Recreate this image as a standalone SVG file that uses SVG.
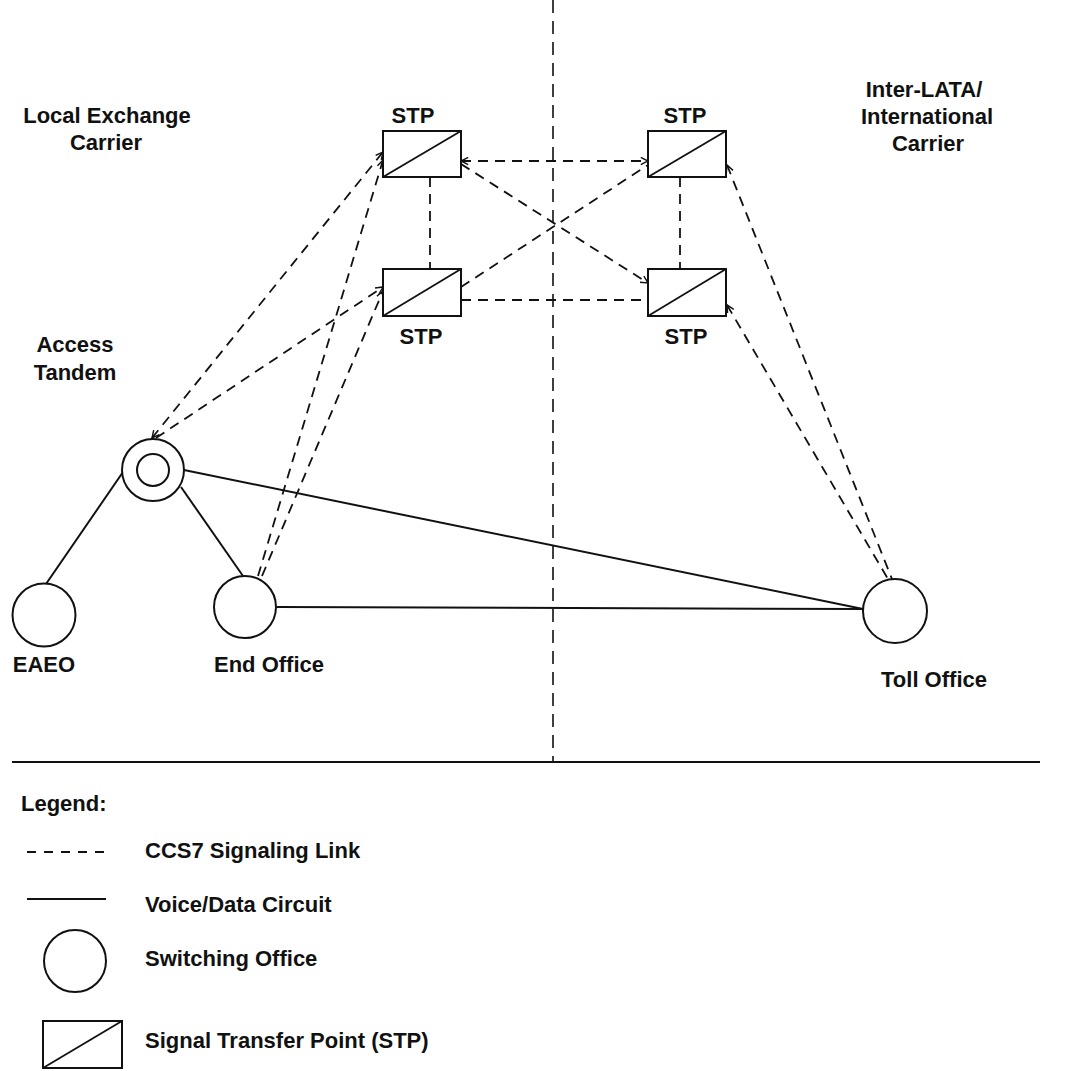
<svg xmlns="http://www.w3.org/2000/svg" width="1066" height="1071" viewBox="0 0 1066 1071">
  <defs>
    <style>
      text { font-family: "Liberation Sans", Arial, Helvetica, sans-serif; font-size: 22px; font-weight: bold; fill: #111; }
      .mid { text-anchor: middle; }
      .office { fill: #fff; stroke: #111; stroke-width: 2; }
      .stp { fill: #fff; stroke: #111; stroke-width: 2; }
      .diag { stroke: #111; stroke-width: 1.8; fill: none; }
      .circuit { stroke: #111; stroke-width: 2; fill: none; }
      .link { stroke: #111; stroke-width: 1.8; fill: none; stroke-dasharray: 10 7; }
      .divider { stroke: #111; stroke-width: 1.6; fill: none; stroke-dasharray: 13 8; }
      .rule { stroke: #111; stroke-width: 2; fill: none; }
    </style>
    <marker id="arrow" viewBox="0 0 10 10" refX="9" refY="5" markerWidth="9" markerHeight="9" markerUnits="userSpaceOnUse" orient="auto-start-reverse">
      <path d="M1,1 L9,5 L1,9" fill="none" stroke="#111" stroke-width="1.6" stroke-dasharray="none"/>
    </marker>
  </defs>

  <rect width="1066" height="1071" fill="#fff"/>

  <!-- boundary between carriers and the legend rule -->
  <line class="divider" x1="553" y1="0" x2="553" y2="762"/>
  <line class="rule" x1="12" y1="762" x2="1040" y2="762"/>

  <!-- region labels -->
  <text class="mid" x="107" y="123">Local Exchange</text>
  <text class="mid" x="106" y="150">Carrier</text>
  <text class="mid" x="924" y="97">Inter-LATA/</text>
  <text class="mid" x="927" y="124">International</text>
  <text class="mid" x="928" y="151">Carrier</text>

  <!-- connectors -->
  <g id="connectors">
    <!-- voice/data circuits -->
    <line class="circuit" x1="123" y1="472" x2="46" y2="584"/>
    <line class="circuit" x1="181" y1="487" x2="243" y2="576"/>
    <line class="circuit" x1="184" y1="470" x2="863" y2="609"/>
    <line class="circuit" x1="277" y1="607" x2="863" y2="609"/>

    <!-- CCS7 signaling links -->
    <line class="link" x1="152" y1="438" x2="383" y2="152" marker-start="url(#arrow)" marker-end="url(#arrow)"/>
    <line class="link" x1="156" y1="438" x2="383" y2="287" marker-end="url(#arrow)"/>
    <line class="link" x1="258" y1="576" x2="383" y2="160" marker-end="url(#arrow)"/>
    <line class="link" x1="262" y1="576" x2="383" y2="291" marker-end="url(#arrow)"/>

    <line class="link" x1="461" y1="161" x2="648" y2="161" marker-start="url(#arrow)" marker-end="url(#arrow)"/>
    <line class="link" x1="461" y1="300" x2="648" y2="300"/>
    <line class="link" x1="430" y1="177" x2="430" y2="269"/>
    <line class="link" x1="680" y1="177" x2="680" y2="269"/>
    <line class="link" x1="461" y1="164" x2="648" y2="283" marker-end="url(#arrow)"/>
    <line class="link" x1="461" y1="287" x2="648" y2="165"/>

    <line class="link" x1="727" y1="165" x2="892" y2="579" marker-start="url(#arrow)"/>
    <line class="link" x1="727" y1="305" x2="888" y2="579" marker-start="url(#arrow)"/>
  </g>

  <!-- signal transfer points -->
  <g id="stp-lec-upper">
    <rect class="stp" x="383" y="131" width="78" height="46"/>
    <line class="diag" x1="383" y1="177" x2="461" y2="131"/>
    <text class="mid" x="413" y="123">STP</text>
  </g>
  <g id="stp-ixc-upper">
    <rect class="stp" x="648" y="131" width="78" height="46"/>
    <line class="diag" x1="648" y1="177" x2="726" y2="131"/>
    <text class="mid" x="685" y="123">STP</text>
  </g>
  <g id="stp-lec-lower">
    <rect class="stp" x="383" y="269" width="78" height="47"/>
    <line class="diag" x1="383" y1="316" x2="461" y2="269"/>
    <text class="mid" x="421" y="344">STP</text>
  </g>
  <g id="stp-ixc-lower">
    <rect class="stp" x="648" y="269" width="78" height="47"/>
    <line class="diag" x1="648" y1="316" x2="726" y2="269"/>
    <text class="mid" x="686" y="344">STP</text>
  </g>

  <!-- switching offices -->
  <g id="access-tandem">
    <circle class="office" cx="153" cy="470" r="31"/>
    <circle class="office" cx="153" cy="470" r="16"/>
    <text class="mid" x="75" y="352">Access</text>
    <text class="mid" x="75" y="380">Tandem</text>
  </g>
  <g id="eaeo">
    <circle class="office" cx="44" cy="615" r="31.5"/>
    <text class="mid" x="44" y="672">EAEO</text>
  </g>
  <g id="end-office">
    <circle class="office" cx="245" cy="607" r="31"/>
    <text class="mid" x="269" y="672">End Office</text>
  </g>
  <g id="toll-office">
    <circle class="office" cx="895" cy="611" r="32"/>
    <text class="mid" x="934" y="687">Toll Office</text>
  </g>

  <!-- legend -->
  <g id="legend">
    <text x="21" y="811">Legend:</text>
    <line class="link" x1="27" y1="852" x2="106" y2="852" style="stroke-dasharray: 9 8"/>
    <text x="145" y="858">CCS7 Signaling Link</text>
    <line class="circuit" x1="27" y1="899" x2="106" y2="899"/>
    <text x="145" y="912">Voice/Data Circuit</text>
    <circle class="office" cx="75" cy="961" r="31"/>
    <text x="145" y="966">Switching Office</text>
    <rect class="stp" x="43" y="1021" width="79" height="47"/>
    <line class="diag" x1="43" y1="1068" x2="122" y2="1021"/>
    <text x="145" y="1048">Signal Transfer Point (STP)</text>
  </g>
</svg>
